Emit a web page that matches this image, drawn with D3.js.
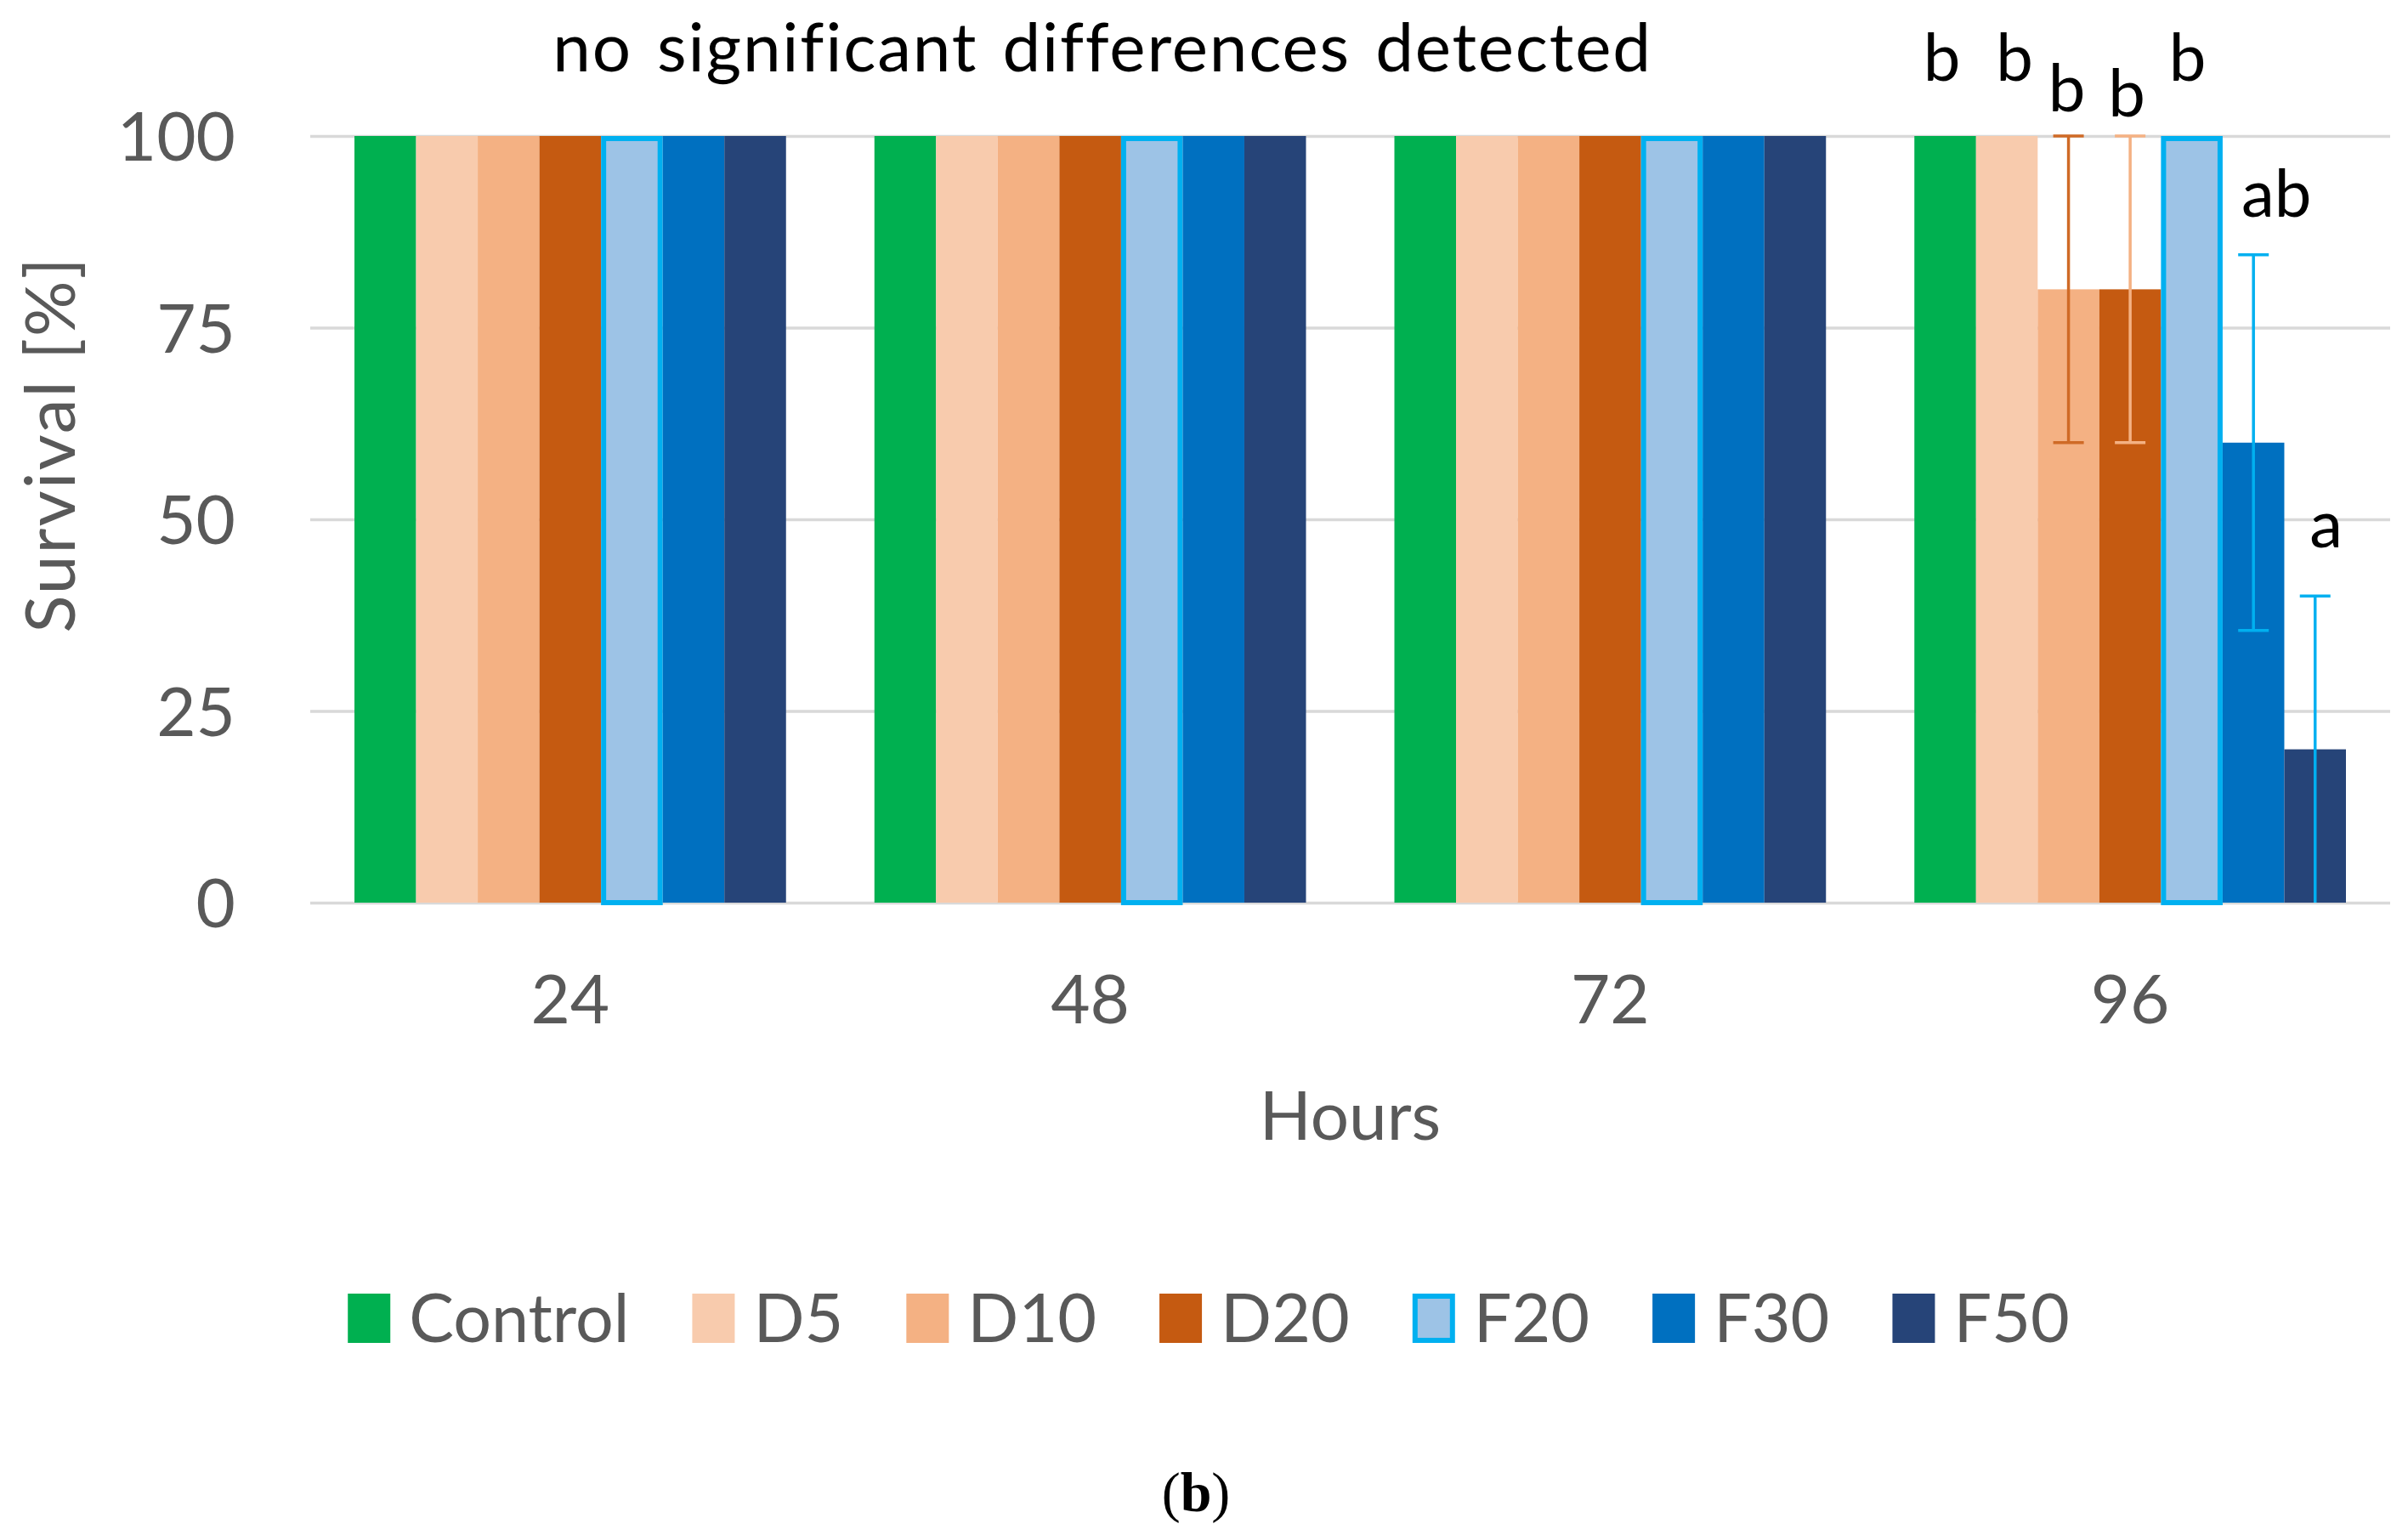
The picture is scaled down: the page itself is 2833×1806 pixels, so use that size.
<!DOCTYPE html>
<html>
<head>
<meta charset="utf-8">
<script src="https://cdn.jsdelivr.net/npm/d3@7"></script>
<style>
  html, body { margin: 0; padding: 0; background: #ffffff; }
  svg { display: block; }
</style>
</head>
<body>
<script>
// ---------- DATA ----------
const hours = ["24", "48", "72", "96"];
const seriesNames = ["Control", "D5", "D10", "D20", "F20", "F30", "F50"];
const survival = {
  "Control": [100, 100, 100, 100],
  "D5":      [100, 100, 100, 100],
  "D10":     [100, 100, 100, 80],
  "D20":     [100, 100, 100, 80],
  "F20":     [100, 100, 100, 100],
  "F30":     [100, 100, 100, 60],
  "F50":     [100, 100, 100, 20]
};
const errors = {
  "Control": [0, 0, 0, 0],
  "D5":      [0, 0, 0, 0],
  "D10":     [0, 0, 0, 20],
  "D20":     [0, 0, 0, 20],
  "F20":     [0, 0, 0, 0],
  "F30":     [0, 0, 0, 24.5],
  "F50":     [0, 0, 0, 20]
};
const yTicks = [0, 25, 50, 75, 100];
// significance letters at 96 h, with baseline height in % units
const sigHour = "96";
const sigLetters = ["b", "b", "b", "b", "b", "ab", "a"];
const sigLevel   = [107.2, 107.2, 103.2, 102.6, 107.2, 89.5, 46.3];
const titleText = "no significant differences detected";
const yTitle = "Survival [%]";
const xTitle = "Hours";
const panelLabel = "b";

// ---------- STYLE ----------
const W = 2833, H = 1806;
const fills   = ["#00B050", "#F8CBAD", "#F4B183", "#C55A11", "#9DC3E6", "#0070C0", "#264478"];
const strokes = [null, null, null, null, "#00B0F0", null, null];
const errColors = ["#00B050", "#F8CBAD", "#CF6A26", "#F4B183", "#00B0F0", "#00B0F0", "#00B0F0"];
const sigDx = [-4, 9, -2, -4, -5, 27, 13];
const FONT = "Lato, 'Open Sans', 'Noto Sans', sans-serif";
const gray = "#595959";

const plot = { left: 365, right: 2812, top: 160, bottom: 1062 };

const svg = d3.select("body").append("svg")
  .attr("width", W).attr("height", H)
  .attr("viewBox", `0 0 ${W} ${H}`);
svg.append("rect").attr("width", W).attr("height", H).attr("fill", "#fff");

const x0 = d3.scaleBand().domain(hours).range([plot.left, plot.right])
  .paddingInner(0.17).paddingOuter(0.085);
const x1 = d3.scaleBand().domain(seriesNames).range([0, x0.bandwidth()]).padding(0);
const y = d3.scaleLinear().domain([0, 100]).range([plot.bottom, plot.top]);

// gridlines
const yAxis = d3.axisLeft(y).tickValues(yTicks).tickSize(-(plot.right - plot.left)).tickPadding(88);
const gy = svg.append("g").attr("transform", `translate(${plot.left},0)`).call(yAxis);
gy.select(".domain").remove();
gy.selectAll(".tick line").attr("stroke", "#D9D9D9").attr("stroke-width", 3.5);
gy.selectAll(".tick text")
  .attr("fill", gray).attr("font-family", FONT).attr("font-size", 80)
  .attr("dy", "0.36em");

// x axis labels
const xAxis = d3.axisBottom(x0).tickSize(0).tickPadding(142);
const gx = svg.append("g").attr("transform", `translate(0,${plot.bottom})`).call(xAxis);
gx.select(".domain").remove();
gx.selectAll(".tick text")
  .attr("fill", gray).attr("font-family", FONT).attr("font-size", 80)
  .attr("dy", 0);

// bars
const flat = [];
hours.forEach((h, hi) => {
  seriesNames.forEach((s, si) => {
    flat.push({ h, hi, s, si, v: survival[s][hi], e: errors[s][hi] });
  });
});

const barG = svg.append("g");
barG.selectAll("rect").data(flat).join("rect")
  .attr("x", d => x0(d.h) + x1(d.s) + (strokes[d.si] ? 3 : 0))
  .attr("y", d => y(d.v) + (strokes[d.si] ? 3 : 0))
  .attr("width", d => x1.bandwidth() - (strokes[d.si] ? 6 : 0))
  .attr("height", d => y(0) - y(d.v) - (strokes[d.si] ? 3 : 0))
  .attr("fill", d => fills[d.si])
  .attr("stroke", d => strokes[d.si] || "none")
  .attr("stroke-width", d => strokes[d.si] ? 6 : 0);

// error bars
const errG = svg.append("g");
const capHalf = 18;
flat.filter(d => d.e > 0).forEach(d => {
  const cx = x0(d.h) + x1(d.s) + x1.bandwidth() / 2;
  const lo = Math.max(0, d.v - d.e), hi = Math.min(100, d.v + d.e);
  const col = errColors[d.si];
  errG.append("line").attr("x1", cx).attr("x2", cx).attr("y1", y(lo)).attr("y2", y(hi))
    .attr("stroke", col).attr("stroke-width", 3.5);
  errG.append("line").attr("x1", cx - capHalf).attr("x2", cx + capHalf).attr("y1", y(hi)).attr("y2", y(hi))
    .attr("stroke", col).attr("stroke-width", 3.5);
  if (lo > 0) {
    errG.append("line").attr("x1", cx - capHalf).attr("x2", cx + capHalf).attr("y1", y(lo)).attr("y2", y(lo))
      .attr("stroke", col).attr("stroke-width", 3.5);
  }
});

// significance letters
svg.append("g").selectAll("text").data(seriesNames).join("text")
  .attr("x", (s, i) => x0(sigHour) + x1(s) + x1.bandwidth() / 2 + sigDx[i])
  .attr("y", (s, i) => y(sigLevel[i]))
  .attr("text-anchor", "middle")
  .attr("font-family", FONT).attr("font-size", 78).attr("fill", "#000")
  .text((s, i) => sigLetters[i]);

// title
svg.append("text")
  .attr("x", 1297).attr("y", 84)
  .attr("text-anchor", "middle")
  .attr("font-family", FONT).attr("font-size", 80).attr("fill", "#000")
  .attr("word-spacing", 7).attr("letter-spacing", 1.8)
  .text(titleText);

// y title
svg.append("text")
  .attr("transform", `translate(88,${(plot.top + plot.bottom) / 2 - 88}) rotate(-90)`)
  .attr("text-anchor", "middle")
  .attr("font-family", FONT).attr("font-size", 82).attr("fill", gray)
  .attr("letter-spacing", 2)
  .text(yTitle);

// x title
svg.append("text")
  .attr("x", (plot.left + plot.right) / 2).attr("y", 1341)
  .attr("text-anchor", "middle")
  .attr("font-family", FONT).attr("font-size", 80).attr("fill", gray)
  .text(xTitle);

// legend
const legG = svg.append("g");
const swW = 50, swH = 58, swGap = 22, itemGap = 74, legY = 1551;
let cursor = 0;
seriesNames.forEach((s, i) => {
  const g = legG.append("g");
  g.append("rect")
    .attr("x", strokes[i] ? 3 : 0).attr("y", -swH / 2 + (strokes[i] ? 3 : 0))
    .attr("width", swW - (strokes[i] ? 6 : 0)).attr("height", swH - (strokes[i] ? 6 : 0))
    .attr("fill", fills[i])
    .attr("stroke", strokes[i] || "none").attr("stroke-width", strokes[i] ? 6 : 0);
  const t = g.append("text")
    .attr("x", swW + swGap).attr("y", 0).attr("dy", "0.36em")
    .attr("font-family", FONT).attr("font-size", 79).attr("fill", gray)
    .text(s);
  const tw = t.node().getComputedTextLength();
  g.attr("transform", `translate(${cursor},${legY})`);
  cursor += swW + swGap + tw + itemGap;
});
const legW = cursor - itemGap;
legG.attr("transform", `translate(${1422 - legW / 2},0)`);

// panel label
const pl = svg.append("text")
  .attr("x", 1407).attr("y", 1778)
  .attr("text-anchor", "middle")
  .attr("font-family", "'Liberation Serif', 'Times New Roman', serif")
  .attr("font-size", 66).attr("fill", "#000");
pl.append("tspan").text("(");
pl.append("tspan").attr("font-weight", "bold").text(panelLabel);
pl.append("tspan").text(")");
</script>
</body>
</html>
